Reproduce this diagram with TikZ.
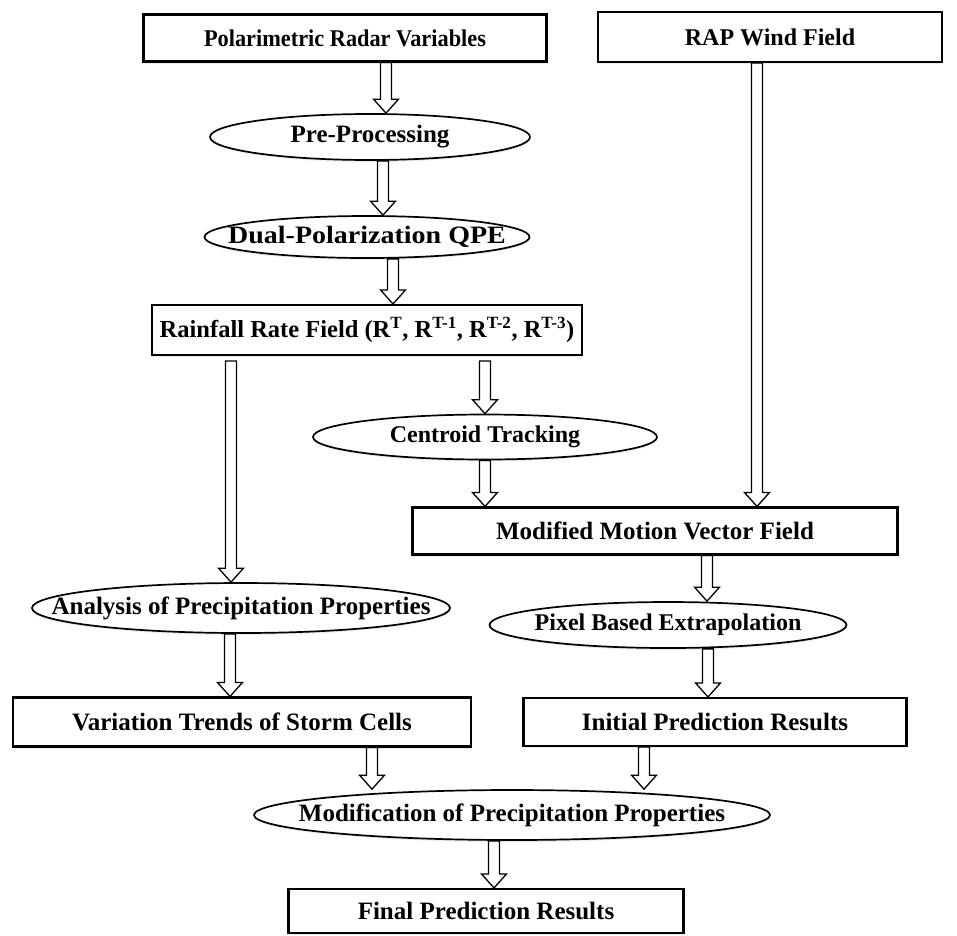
\documentclass[tikz,border=0pt]{standalone}
\usepackage{fontspec}
\setmainfont{Liberation Serif}
\newfontfamily\narrowfont[FakeStretch=0.93]{Liberation Serif}
\newfontfamily\widefont[FakeStretch=1.12]{Liberation Serif}
\usetikzlibrary{calc,shapes.geometric,shadows}

\newcommand{\fsz}[1]{\fontsize{#1}{#1}\selectfont}

\tikzset{
  box/.style={draw, line width=2.1pt, fill=white, rectangle, inner sep=0pt,
    drop shadow={opacity=0.15, shadow xshift=0pt, shadow yshift=-2pt}},
  oval/.style={draw, line width=1.7pt, fill=white, ellipse, inner sep=0pt,
    drop shadow={opacity=0.15, shadow xshift=0pt, shadow yshift=-2pt}},
  blockarrow/.style={draw, line width=1.3pt, to path={
      let \p1=(\tikztostart), \p2=(\tikztotarget) in
      (\x1-5.5pt,\y1) -- (\x1-5.5pt,\y2+14pt) -- (\x1-12.5pt,\y2+14pt) -- (\x1,\y2)
      -- (\x1+12.5pt,\y2+14pt) -- (\x1+5.5pt,\y2+14pt) -- (\x1+5.5pt,\y1) -- cycle}}
}

\begin{document}
\begin{tikzpicture}[x=1pt, y=-1pt,
    font=\bfseries\fsz{25}]
  \useasboundingbox (0,0) rectangle (957,935);

  % left column and top row
  \node[box, minimum width=403pt, minimum height=47pt, font=\narrowfont\bfseries\fsz{24}] (pol) at (345,38) {Polarimetric Radar Variables};
  \node[box, minimum width=344pt, minimum height=50pt, font=\bfseries\fsz{24}] (rap) at (770,37) {RAP Wind Field};
  \node[oval, minimum width=320pt, minimum height=46pt, label=center:Pre-Processing] (pre) at (370,137) {};
  \node[oval, minimum width=325pt, minimum height=42pt, label={[font=\widefont\bfseries\fsz{25}]center:Dual-Polarization QPE}] (qpe) at (367,237) {};
  \node[box, minimum width=430pt, minimum height=50pt, font=\bfseries\fsz{24.5}] (rain) at (367,330)
    {Rainfall Rate Field (R\textsuperscript{T}, R\textsuperscript{T-1}, R\textsuperscript{T-2}, R\textsuperscript{T-3})};

  % tracking branch
  \node[oval, minimum width=344pt, minimum height=45pt, label={[font=\bfseries\fsz{24}]center:Centroid Tracking}] (cent) at (485,437) {};
  \node[box, minimum width=485pt, minimum height=47pt] (motion) at (655,531) {Modified Motion Vector Field};
  \node[oval, minimum width=357pt, minimum height=46pt, label={[font=\bfseries\fsz{24}]center:Pixel Based Extrapolation}] (pix) at (668,625) {};
  \node[box, minimum width=383pt, minimum height=48pt] (init) at (715,722) {Initial Prediction Results};

  % properties branch
  \node[oval, minimum width=418pt, minimum height=50pt, label=center:Analysis of Precipitation Properties] (ana) at (241,608) {};
  \node[box, minimum width=458pt, minimum height=49pt] (trend) at (242,722) {Variation Trends of Storm Cells};

  % merge
  \node[oval, minimum width=516pt, minimum height=50pt, label=center:Modification of Precipitation Properties] (modp) at (512,815) {};
  \node[box, minimum width=395pt, minimum height=44pt] (final) at (486,911) {Final Prediction Results};

  % connectors
  \draw[blockarrow] ([xshift=41pt]pol.south) to (pre.north);
  \draw[blockarrow] ([xshift=13pt]pre.south) to (qpe.north);
  \draw[blockarrow] ([xshift=26pt]qpe.south) to (rain.north);
  \draw[blockarrow] ([xshift=-136pt,yshift=-5pt]rain.south) to (ana.north);
  \draw[blockarrow] ([xshift=118pt,yshift=-5pt]rain.south) to (cent.north);
  \draw[blockarrow] (cent.south) to (motion.north);
  \draw[blockarrow] ([xshift=-13pt]rap.south) to (motion.north);
  \draw[blockarrow] ([xshift=52pt]motion.south) to (pix.north);
  \draw[blockarrow] ([xshift=40pt]pix.south) to (init.north);
  \draw[blockarrow] ([xshift=-11pt]ana.south) to (trend.north);
  \draw[blockarrow] ([xshift=130pt]trend.south) to (modp.north);
  \draw[blockarrow] ([xshift=-71pt]init.south) to (modp.north);
  \draw[blockarrow] ([xshift=-18pt]modp.south) to (final.north);
\end{tikzpicture}
\end{document}
